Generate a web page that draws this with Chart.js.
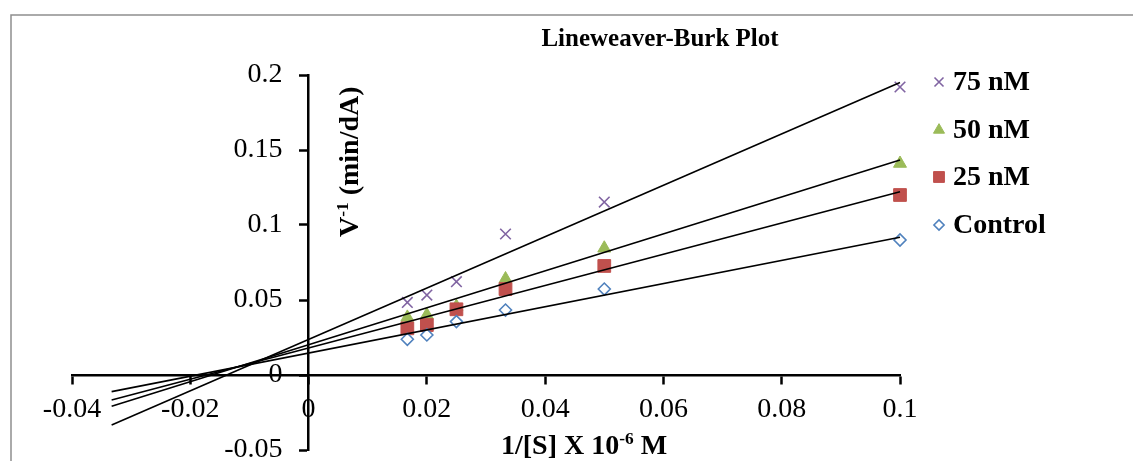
<!DOCTYPE html>
<html>
<head>
<meta charset="utf-8">
<title>Lineweaver-Burk Plot</title>
<script src="https://cdn.jsdelivr.net/npm/chart.js@4.4.0/dist/chart.umd.min.js"></script>
<style>
  html, body { margin: 0; padding: 0; background: #fff; }
  canvas { display: block; }
</style>
</head>
<body>
<canvas id="grafica" width="1133" height="461"></canvas>
<script>
// 1/[S] (x 10^-6 M)
const invS = [0.0167, 0.02, 0.025, 0.0333, 0.05, 0.1];

// 1/V (min/dA) for each inhibitor concentration
const nombres = ["75 nM", "50 nM", "25 nM", "Control"];
const v75 = [0.0484, 0.0533, 0.0622, 0.094, 0.1153, 0.192];
const v50 = [0.0384, 0.040, 0.0456, 0.0640, 0.0845, 0.141];
const v25 = [0.0311, 0.0333, 0.0438, 0.0573, 0.0727, 0.120];
const vControl = [0.0238, 0.0267, 0.0356, 0.0433, 0.0573, 0.090];

// linear trendlines, extended back past the y axis
const trendX = [-0.0333, 0.1];
const trend75 = [-0.0333, 0.195];
const trend50 = [-0.0208, 0.1433];
const trend25 = [-0.0166, 0.1222];
const trendControl = [-0.0111, 0.0918];

// axis ticks
const xTicks = [-0.04, -0.02, 0, 0.02, 0.04, 0.06, 0.08, 0.1];
const xTickLabels = ["-0.04", "-0.02", "0", "0.02", "0.04", "0.06", "0.08", "0.1"];
const yTicks = [-0.05, 0, 0.05, 0.1, 0.15, 0.2];
const yTickLabels = ["-0.05", "0", "0.05", "0.1", "0.15", "0.2"];

const SERIF = '"Liberation Serif", "Times New Roman", serif';
Chart.defaults.font.family = SERIF;
Chart.defaults.color = "#000";

const puntos = (ys) => invS.map((x, i) => ({ x: x, y: ys[i] }));
const recta = (ys) => trendX.map((x, i) => ({ x: x, y: ys[i] }));

const estilos = [
  { data: v75, trend: trend75, color: "#8064A2", style: "crossRot", radius: 7.5, fill: "#8064A2", bw: 1.6, order: 4 },
  { data: v50, trend: trend50, color: "#9BBB59", style: "triangle", radius: 7.5, fill: "#9BBB59", bw: 1, order: 3 },
  { data: v25, trend: trend25, color: "#C0504D", style: "rect", radius: 9, fill: "#C0504D", bw: 1, order: 2 },
  { data: vControl, trend: trendControl, color: "#4F81BD", style: "rectRot", radius: 6, fill: "#ffffff", bw: 1.6, order: 1 }
];

const datasets = [];
estilos.forEach((s, i) => {
  datasets.push({
    label: nombres[i],
    data: puntos(s.data),
    pointStyle: s.style,
    pointRadius: s.radius,
    pointHoverRadius: s.radius,
    pointBackgroundColor: s.fill,
    pointBorderColor: s.color,
    pointBorderWidth: s.bw,
    showLine: false,
    clip: false,
    order: s.order
  });
});
estilos.forEach((s, i) => {
  datasets.push({
    label: nombres[i] + " trend",
    isTrend: true,
    data: recta(s.trend),
    showLine: true,
    borderColor: "#000",
    borderWidth: 1.6,
    pointRadius: 0,
    fill: false,
    clip: false,
    order: 0
  });
});

// text with superscript pieces
function textoSup(ctx, partes, x, y, size) {
  let cx = x;
  partes.forEach(p => {
    const fs = p.sup ? size * 0.62 : size;
    ctx.font = "bold " + fs + "px " + SERIF;
    ctx.fillText(p.t, cx, p.sup ? y - size * 0.36 : y);
    cx += ctx.measureText(p.t).width;
  });
}

// centred axes: no layout space for them
function sinEspacio(scale) {
  if (scale.isHorizontal()) scale.height = 0; else scale.width = 0;
  scale.paddingLeft = 0;
  scale.paddingRight = 0;
  scale.paddingTop = 0;
  scale.paddingBottom = 0;
}

const marco = {
  id: "marco",
  beforeDraw(chart) {
    const ctx = chart.ctx;
    ctx.save();
    ctx.fillStyle = "#fff";
    ctx.fillRect(0, 0, chart.width, chart.height);
    ctx.strokeStyle = "#8e8e8e";
    ctx.lineWidth = 1.5;
    ctx.beginPath();
    ctx.moveTo(11, chart.height);
    ctx.lineTo(11, 15);
    ctx.lineTo(chart.width, 15);
    ctx.stroke();
    ctx.restore();

    // y labels sit left of the tick marks
    const x0 = chart.scales.x.getPixelForValue(0);
    chart.scales.y.getLabelItems().forEach(item => {
      item.options.translation[0] = x0 - 26;
      item.options.textAlign = "right";
    });
  },
  afterDraw(chart) {
    const ctx = chart.ctx;
    ctx.save();
    ctx.fillStyle = "#000";
    ctx.textBaseline = "alphabetic";

    // title
    ctx.font = "bold 25px " + SERIF;
    ctx.textAlign = "center";
    ctx.fillText("Lineweaver-Burk Plot", 660, 46);

    // x axis title
    ctx.textAlign = "left";
    textoSup(ctx, [{ t: "1/[S] X 10" }, { t: "-6", sup: true }, { t: " M" }], 501, 454, 28);

    // y axis title
    ctx.save();
    ctx.translate(358, 237);
    ctx.rotate(-Math.PI / 2);
    textoSup(ctx, [{ t: "V" }, { t: "-1", sup: true }, { t: " (min/dA)" }], 0, 0, 28);
    ctx.restore();

    // legend
    const filas = [82, 130, 177, 225];
    chart.data.datasets.filter(d => !d.isTrend).forEach((d, i) => {
      ctx.save();
      ctx.fillStyle = d.pointBackgroundColor;
      ctx.strokeStyle = d.pointBorderColor;
      ctx.lineWidth = d.pointBorderWidth;
      Chart.helpers.drawPoint(ctx, {
        pointStyle: d.pointStyle,
        radius: d.pointRadius * 0.85,
        rotation: 0,
        borderWidth: d.pointBorderWidth
      }, 939, filas[i]);
      ctx.restore();
      ctx.font = "bold 28px " + SERIF;
      ctx.textAlign = "left";
      ctx.textBaseline = "middle";
      ctx.fillText(d.label, 953, filas[i] + 1);
    });
    ctx.restore();
  }
};

const ctx = document.getElementById("grafica").getContext("2d");
new Chart(ctx, {
  type: "scatter",
  data: { datasets: datasets },
  options: {
    responsive: false,
    animation: false,
    layout: { padding: { left: 72, right: 233, top: 75, bottom: 11 } },
    plugins: {
      legend: { display: false },
      title: { display: false },
      tooltip: { enabled: false }
    },
    scales: {
      x: {
        type: "linear",
        position: { y: 0 },
        min: -0.04,
        max: 0.1,
        afterBuildTicks: s => { s.ticks = xTicks.map(v => ({ value: v })); },
        afterFit: sinEspacio,
        ticks: {
          callback: (v, i) => xTickLabels[i],
          font: { size: 28 },
          padding: 10,
          maxRotation: 0,
          autoSkip: false
        },
        grid: { drawOnChartArea: false, drawTicks: true, tickLength: 8, tickColor: "#000", tickWidth: 2.5 },
        border: { display: true, color: "#000", width: 2.5 }
      },
      y: {
        type: "linear",
        position: { x: 0 },
        min: -0.05,
        max: 0.2,
        afterBuildTicks: s => { s.ticks = yTicks.map(v => ({ value: v })); },
        afterFit: sinEspacio,
        ticks: {
          callback: (v, i) => yTickLabels[i],
          font: { size: 28 },
          padding: 16,
          autoSkip: false
        },
        grid: { drawOnChartArea: false, drawTicks: true, tickLength: 8, tickColor: "#000", tickWidth: 2.5 },
        border: { display: true, color: "#000", width: 2.5 }
      }
    }
  },
  plugins: [marco]
});
</script>
</body>
</html>
